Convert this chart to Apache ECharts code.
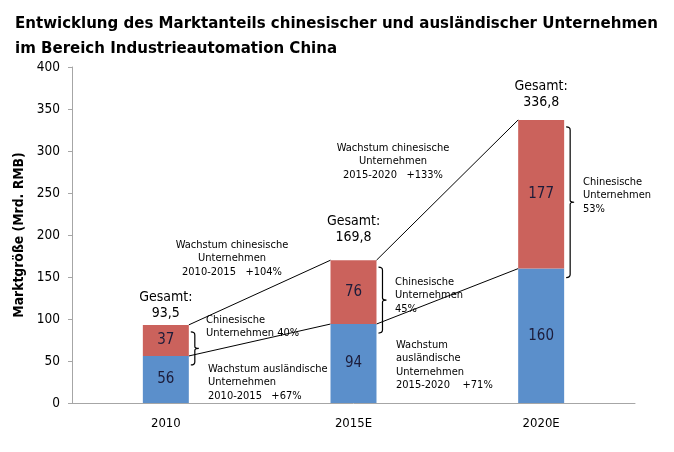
<!DOCTYPE html>
<html lang="de">
<head>
    <meta charset="UTF-8">
    <script src="https://cdn.jsdelivr.net/npm/echarts@6/dist/echarts.min.js"></script>
    <title>Industrieautomation China</title>
    <style>html,body{margin:0;padding:0;background:#fff;}</style>
</head>
<body>
    <div id="chart" style="width:674px;height:452px;"></div>
    <script type="text/javascript">
        // Marktgröße in Mrd. RMB
        var years = ['2010', '2015E', '2020E'];
        var foreign = [56, 94, 160];     // ausländische Unternehmen
        var chinese = [37, 76, 177];     // chinesische Unternehmen
        var totals = ['93,5', '169,8', '336,8'];
        var yTicks = { min: 0, max: 400, interval: 50 };

        var FONT = "'DejaVu Sans Condensed', 'DejaVu Sans', sans-serif";
        var BLUE = '#5b8fcb';
        var RED = '#cb625c';
        var BAR = 0.245;           // bar width as share of a category
        var totalGap = [4, 15, 10]; // px between bar top and "Gesamt" box

        // connector lines between bars: [from, value, to, value]
        var links = [];
        var brackets = [];
        for (var i = 0; i < years.length; i++) {
            var stackTop = foreign[i] + chinese[i];
            brackets.push([i, foreign[i], stackTop]);
            if (i < years.length - 1) {
                links.push([i, stackTop, i + 1, foreign[i + 1] + chinese[i + 1]]);
                links.push([i, foreign[i], i + 1, foreign[i + 1]]);
            }
        }

        // free text notes (pixel layout)
        var notes = [
            { x: 232, y: 238, align: 'center', text: 'Wachstum chinesische\nUnternehmen\n2010-2015   +104%' },
            { x: 206, y: 313, align: 'left', text: 'Chinesische\nUnternehmen 40%' },
            { x: 208, y: 362, align: 'left', text: 'Wachstum ausländische\nUnternehmen\n2010-2015   +67%' },
            { x: 395, y: 275, align: 'left', text: 'Chinesische\nUnternehmen\n45%' },
            { x: 396, y: 338, align: 'left', text: 'Wachstum\nausländische\nUnternehmen\n2015-2020    +71%' },
            { x: 393, y: 141, align: 'center', text: 'Wachstum chinesische\nUnternehmen\n2015-2020   +133%' },
            { x: 583, y: 175, align: 'left', text: 'Chinesische\nUnternehmen\n53%' }
        ];

        var chart = echarts.init(document.getElementById('chart'));

        var option = {
            animation: false,
            backgroundColor: '#fff',
            textStyle: { fontFamily: FONT },
            title: {
                text: 'Entwicklung des Marktanteils chinesischer und ausländischer Unternehmen\nim Bereich Industrieautomation China',
                left: 10,
                top: 6,
                textStyle: { fontFamily: FONT, fontSize: 16.7, fontWeight: 'bold', color: '#000', lineHeight: 25 }
            },
            grid: { left: 72, right: 39, top: 67, bottom: 49 },
            xAxis: [{
                type: 'category',
                data: years,
                axisLine: { lineStyle: { color: '#a6a6a6' } },
                axisTick: { show: false },
                axisLabel: { color: '#000', fontSize: 13, margin: 14, fontFamily: FONT }
            }, {
                type: 'value',
                min: -0.5,
                max: 2.5,
                show: false
            }],
            yAxis: {
                type: 'value',
                min: yTicks.min,
                max: yTicks.max,
                interval: yTicks.interval,
                name: 'Marktgröße (Mrd. RMB)',
                nameLocation: 'middle',
                nameRotate: 90,
                nameGap: 44,
                nameTextStyle: { color: '#000', fontSize: 13.8, fontWeight: 'bold', fontFamily: FONT },
                axisLine: { show: true, onZero: false, lineStyle: { color: '#a6a6a6' } },
                axisTick: { show: true, length: 4, lineStyle: { color: '#a6a6a6' } },
                axisLabel: { color: '#000', fontSize: 13.5, margin: 12, fontFamily: FONT },
                splitLine: { show: false }
            },
            series: [{
                name: 'ausländisch',
                type: 'bar',
                stack: 'markt',
                barWidth: (BAR * 100) + '%',
                data: foreign,
                itemStyle: { color: BLUE },
                label: { show: true, position: 'inside', fontSize: 15, color: '#1c1c3a', fontFamily: FONT }
            }, {
                name: 'chinesisch',
                type: 'bar',
                stack: 'markt',
                data: chinese,
                itemStyle: { color: RED },
                label: { show: true, position: 'inside', fontSize: 15, color: '#1c1c3a', fontFamily: FONT }
            }, {
                // invisible carrier for the "Gesamt" labels on top of the stack
                name: 'gesamt',
                type: 'bar',
                stack: 'markt',
                data: totals.map(function (t, k) {
                    return { value: 0, label: { distance: totalGap[k] } };
                }),
                itemStyle: { color: 'transparent' },
                label: {
                    show: true,
                    position: 'top',
                    fontSize: 14,
                    lineHeight: 16,
                    color: '#000',
                    fontFamily: FONT,
                    formatter: function (p) { return 'Gesamt:\n' + totals[p.dataIndex]; }
                }
            }, {
                type: 'custom',
                xAxisIndex: 1,
                yAxisIndex: 0,
                clip: false,
                silent: true,
                data: links,
                renderItem: function (params, api) {
                    var half = api.size([BAR, 0])[0] / 2;
                    var a = api.coord([api.value(0), api.value(1)]);
                    var b = api.coord([api.value(2), api.value(3)]);
                    return {
                        type: 'line',
                        shape: { x1: a[0] + half, y1: a[1], x2: b[0] - half, y2: b[1] },
                        style: { stroke: '#000', lineWidth: 1 }
                    };
                }
            }, {
                type: 'custom',
                xAxisIndex: 1,
                yAxisIndex: 0,
                clip: false,
                silent: true,
                data: brackets,
                renderItem: function (params, api) {
                    var half = api.size([BAR, 0])[0] / 2;
                    var lo = api.coord([api.value(0), api.value(1)]);
                    var hi = api.coord([api.value(0), api.value(2)]);
                    var x0 = lo[0] + half + 2;
                    var y0 = hi[1] + 7, y1 = lo[1] + 9;
                    var ym = (y0 + y1) / 2;
                    var path = 'M' + x0 + ' ' + y0 +
                        ' Q' + (x0 + 4) + ' ' + y0 + ' ' + (x0 + 4) + ' ' + (y0 + 3) +
                        ' L' + (x0 + 4) + ' ' + (ym - 2) +
                        ' Q' + (x0 + 4) + ' ' + ym + ' ' + (x0 + 8) + ' ' + ym +
                        ' Q' + (x0 + 4) + ' ' + ym + ' ' + (x0 + 4) + ' ' + (ym + 2) +
                        ' L' + (x0 + 4) + ' ' + (y1 - 3) +
                        ' Q' + (x0 + 4) + ' ' + y1 + ' ' + x0 + ' ' + y1;
                    return {
                        type: 'path',
                        shape: { pathData: path },
                        style: { stroke: '#000', lineWidth: 1.2, fill: null }
                    };
                }
            }],
            graphic: notes.map(function (n) {
                return {
                    type: 'text',
                    x: n.x,
                    y: n.y,
                    silent: true,
                    style: {
                        text: n.text,
                        font: '11px ' + FONT,
                        fill: '#000',
                        align: n.align,
                        verticalAlign: 'top',
                        lineHeight: 13.5
                    }
                };
            })
        };

        chart.setOption(option);
    </script>
</body>
</html>
